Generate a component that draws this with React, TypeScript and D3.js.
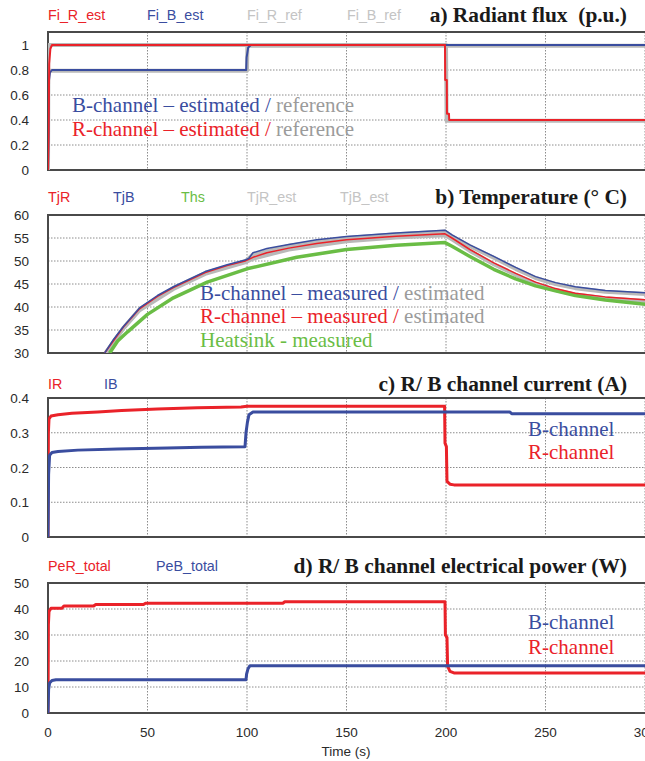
import React, { useEffect, useRef } from "react";
import * as d3 from "d3";

type Pt = [number, number];

// ---- x axis (time, s)
const TIME_TICKS = [0, 50, 100, 150, 200, 250, 300];

// ---- a) Radiant flux (p.u.)
const FI_R_EST: Pt[] = [[0, 0], [0.3, 0.3], [0.6, 0.85], [1.2, 0.97], [2, 1], [199.5, 1], [199.6, 0.72], [200.4, 0.72], [200.5, 0.45], [201.5, 0.45], [201.6, 0.4], [305, 0.4]];
const FI_B_EST: Pt[] = [[0, 0], [0.3, 0.3], [0.5, 0.72], [1, 0.78], [2, 0.8], [99.6, 0.8], [99.8, 0.9], [100.6, 0.98], [102, 1], [305, 1]];
const FI_R_REF: Pt[] = [[0, 0], [0.1, 1], [200, 1], [200.3, 0.395], [305, 0.395]];
const FI_B_REF: Pt[] = [[0, 0], [0.1, 0.795], [100, 0.795], [100.2, 0.995], [305, 0.995]];
const FLUX_TICKS = [0, 0.2, 0.4, 0.6, 0.8, 1];

// ---- b) Temperature (°C)
const TJ_R: Pt[] = [[28.5, 30], [38, 35.7], [46, 39.6], [55, 42.3], [63, 44.2], [79, 47.5], [90, 49], [99, 50], [103, 50.8], [110, 51.8], [121, 52.8], [135, 53.8], [150, 54.6], [175, 55.4], [199.5, 55.9], [203, 55], [212, 52.5], [224, 49.6], [235, 47.3], [245, 45.4], [255, 44], [265, 43], [280, 42.2], [300, 41.6], [305, 41.5]];
const TJ_B: Pt[] = [[28.5, 30], [33, 33], [38, 35.8], [46, 39.8], [55, 42.5], [63, 44.4], [79, 47.7], [90, 49.2], [99, 50.2], [101, 50.6], [103, 51.8], [110, 52.7], [121, 53.6], [135, 54.6], [150, 55.3], [175, 56.1], [199.5, 56.7], [203, 55.7], [212, 53.5], [224, 51], [235, 48.6], [245, 46.6], [255, 45.3], [265, 44.4], [280, 43.6], [300, 43.1], [305, 43]];
const THS: Pt[] = [[31, 30], [35, 32.6], [40, 34.6], [50, 38.4], [63, 42], [80, 45.4], [100, 48.3], [125, 50.8], [150, 52.5], [175, 53.4], [199.5, 54], [203, 53.2], [212, 51], [224, 48.2], [235, 46.1], [245, 44.6], [255, 43.5], [265, 42.5], [280, 41.5], [300, 40.6], [305, 40.4]];
const TJ_R_EST: Pt[] = [[29, 30], [38, 35.4], [46, 39.3], [63, 43.9], [79, 47.2], [99, 49.7], [103, 50.5], [121, 52.5], [150, 54.3], [175, 55.1], [199.5, 55.6], [203, 54.7], [212, 52.2], [224, 49.3], [235, 47], [245, 45.1], [255, 43.7], [265, 42.7], [280, 41.9], [300, 41.3], [305, 41.2]];
const TJ_B_EST: Pt[] = [[29, 30], [38, 35.5], [46, 39.5], [63, 44.1], [79, 47.4], [99, 49.9], [103, 51.4], [121, 53.3], [150, 55], [175, 55.8], [199.5, 56.4], [203, 55.4], [212, 53.2], [224, 50.7], [235, 48.3], [245, 46.3], [255, 45], [265, 44.1], [280, 43.3], [300, 42.8], [305, 42.7]];
const TEMP_TICKS = [30, 35, 40, 45, 50, 55, 60];

// ---- c) R/B channel current (A)
const I_R: Pt[] = [[0, 0], [0.1, 0.18], [0.2, 0.3], [0.5, 0.34], [1.5, 0.348], [5, 0.352], [12, 0.356], [25, 0.36], [37, 0.364], [55, 0.368], [75, 0.372], [97, 0.374], [100, 0.376], [199.3, 0.376], [199.5, 0.27], [200.2, 0.26], [200.5, 0.16], [202, 0.152], [204, 0.15], [305, 0.15]];
const I_B: Pt[] = [[0, 0], [0.3, 0.18], [0.8, 0.235], [2, 0.243], [5, 0.246], [15, 0.25], [35, 0.253], [60, 0.256], [77, 0.258], [99, 0.26], [99.5, 0.3], [100.2, 0.33], [101, 0.352], [103, 0.36], [232, 0.36], [233, 0.355], [305, 0.355]];
const CURRENT_TICKS = [0, 0.1, 0.2, 0.3, 0.4];

// ---- d) R/B channel electrical power (W)
const PE_R: Pt[] = [[0, 0], [0.2, 34], [0.5, 39], [1.5, 40.3], [7, 40.3], [8, 41.2], [23, 41.2], [24, 41.7], [48, 41.7], [49, 42.2], [118, 42.2], [119, 42.8], [199.5, 42.8], [199.7, 30], [200.5, 29], [200.8, 18], [202, 16], [204, 15.4], [305, 15.4]];
const PE_B: Pt[] = [[0, 0], [0.3, 9], [0.8, 11.5], [2, 12.5], [4, 12.8], [99.5, 12.8], [99.8, 15], [100.5, 17], [101.5, 18.2], [305, 18.2]];
const POWER_TICKS = [0, 10, 20, 30, 40, 50];

const RED = "#ea2229";
const BLUE = "#3a4d9f";
const GREEN = "#6abd45";
const GREY_LINE = "#b9b9b9";
const GREY_TXT = "#c4c4c4";
const GREY_ANN = "#9b9b9b";
const SANS = "'Liberation Sans', Arial, sans-serif";
const SERIF = "'Liberation Serif', 'Times New Roman', serif";

interface Series { pts: Pt[]; color: string; width: number; }
interface Panel {
    id: string;
    title: string;
    titleY: number;
    domain: [number, number];
    range: [number, number];
    top: number;
    ticks: number[];
    fmt: (v: number) => string;
    legend: { label: string; color: string; x: number }[];
    series: Series[];
    notes: { x: number; y: number; parts: { text: string; color: string }[] }[];
}

const PANELS: Panel[] = [
    {
        id: "a", title: "a) Radiant flux\u00a0\u00a0(p.u.)", titleY: 22,
        domain: [0, 1], range: [170, 45], top: 32, ticks: FLUX_TICKS, fmt: (v) => String(v),
        legend: [
            { label: "Fi_R_est", color: RED, x: 48 },
            { label: "Fi_B_est", color: BLUE, x: 147 },
            { label: "Fi_R_ref", color: GREY_TXT, x: 247 },
            { label: "Fi_B_ref", color: GREY_TXT, x: 347 },
        ],
        series: [
            { pts: FI_R_REF, color: GREY_LINE, width: 4 },
            { pts: FI_B_REF, color: GREY_LINE, width: 4 },
            { pts: FI_B_EST, color: BLUE, width: 2 },
            { pts: FI_R_EST, color: RED, width: 2 },
        ],
        notes: [
            { x: 72, y: 112, parts: [{ text: "B-channel – estimated / ", color: BLUE }, { text: "reference", color: GREY_ANN }] },
            { x: 72, y: 136, parts: [{ text: "R-channel – estimated / ", color: RED }, { text: "reference", color: GREY_ANN }] },
        ],
    },
    {
        id: "b", title: "b) Temperature (° C)", titleY: 204,
        domain: [30, 60], range: [353, 215], top: 215, ticks: TEMP_TICKS, fmt: (v) => String(v),
        legend: [
            { label: "TjR", color: RED, x: 48 },
            { label: "TjB", color: BLUE, x: 113 },
            { label: "Ths", color: GREEN, x: 181 },
            { label: "TjR_est", color: GREY_TXT, x: 247 },
            { label: "TjB_est", color: GREY_TXT, x: 340 },
        ],
        series: [
            { pts: TJ_R_EST, color: GREY_LINE, width: 4 },
            { pts: TJ_B_EST, color: GREY_LINE, width: 4 },
            { pts: THS, color: GREEN, width: 3.5 },
            { pts: TJ_R, color: RED, width: 1.5 },
            { pts: TJ_B, color: BLUE, width: 1.5 },
        ],
        notes: [
            { x: 200, y: 300, parts: [{ text: "B-channel – measured / ", color: BLUE }, { text: "estimated", color: GREY_ANN }] },
            { x: 200, y: 323, parts: [{ text: "R-channel – measured / ", color: RED }, { text: "estimated", color: GREY_ANN }] },
            { x: 200, y: 347, parts: [{ text: "Heatsink - measured", color: GREEN }] },
        ],
    },
    {
        id: "c", title: "c) R/ B channel current (A)", titleY: 391,
        domain: [0, 0.4], range: [537, 398], top: 398, ticks: CURRENT_TICKS, fmt: (v) => String(v),
        legend: [
            { label: "IR", color: RED, x: 48 },
            { label: "IB", color: BLUE, x: 104 },
        ],
        series: [
            { pts: I_R, color: RED, width: 3 },
            { pts: I_B, color: BLUE, width: 3 },
        ],
        notes: [
            { x: 528, y: 436, parts: [{ text: "B-channel", color: BLUE }] },
            { x: 528, y: 459, parts: [{ text: "R-channel", color: RED }] },
        ],
    },
    {
        id: "d", title: "d) R/ B channel electrical power (W)", titleY: 573,
        domain: [0, 50], range: [713, 583], top: 583, ticks: POWER_TICKS, fmt: (v) => String(v),
        legend: [
            { label: "PeR_total", color: RED, x: 48 },
            { label: "PeB_total", color: BLUE, x: 156 },
        ],
        series: [
            { pts: PE_R, color: RED, width: 3 },
            { pts: PE_B, color: BLUE, width: 3 },
        ],
        notes: [
            { x: 528, y: 629, parts: [{ text: "B-channel", color: BLUE }] },
            { x: 528, y: 654, parts: [{ text: "R-channel", color: RED }] },
        ],
    },
];

const W = 645;
const H = 761;

const App: React.FC = () => {
    const svgRef = useRef<SVGSVGElement>(null);

    useEffect(() => {
        if (!svgRef.current) return;
        const svg = d3.select(svgRef.current);
        svg.selectAll("*").remove();

        const x = d3.scaleLinear().domain([0, 300]).range([48, 645]);
        const defs = svg.append("defs");

        PANELS.forEach((p) => {
            const y = d3.scaleLinear().domain(p.domain).range(p.range);
            const bottom = p.range[0];
            const g = svg.append("g");

            defs.append("clipPath").attr("id", `clip-${p.id}`)
                .append("rect")
                .attr("x", x(0)).attr("y", p.top)
                .attr("width", W - x(0)).attr("height", bottom - p.top);

            // grid
            g.selectAll(".vg").data(TIME_TICKS.filter((t) => t > 0))
                .enter().append("line")
                .attr("x1", (t) => x(t)).attr("x2", (t) => x(t))
                .attr("y1", p.top).attr("y2", bottom)
                .attr("stroke", "#8c8c8c").attr("stroke-width", 1)
                .attr("stroke-dasharray", "1.5 1.5");
            g.selectAll(".hg").data(p.ticks.filter((v) => y(v) > p.top + 1 && y(v) < bottom - 1))
                .enter().append("line")
                .attr("x1", x(0)).attr("x2", W)
                .attr("y1", (v) => y(v)).attr("y2", (v) => y(v))
                .attr("stroke", "#8c8c8c").attr("stroke-width", 1)
                .attr("stroke-dasharray", "1.5 1.5");

            // frame
            g.append("path")
                .attr("d", `M${W},${p.top}H${x(0)}V${bottom}H${W}`)
                .attr("fill", "none").attr("stroke", "#4a4a4a").attr("stroke-width", 2);

            // y ticks
            g.selectAll(".yt").data(p.ticks).enter().append("text")
                .attr("x", 29).attr("y", (v) => y(v) + 5)
                .attr("text-anchor", "end")
                .attr("font-family", SANS).attr("font-size", 13.5).attr("fill", "#2a2a2a")
                .text((v) => p.fmt(v));

            // series
            const line = d3.line<Pt>().x((d) => x(d[0])).y((d) => y(d[1]));
            const sg = g.append("g").attr("clip-path", `url(#clip-${p.id})`);
            p.series.forEach((s) => {
                sg.append("path").datum(s.pts)
                    .attr("d", line)
                    .attr("fill", "none")
                    .attr("stroke", s.color)
                    .attr("stroke-width", s.width)
                    .attr("stroke-linejoin", "round");
            });

            // legend labels
            g.selectAll(".lg").data(p.legend).enter().append("text")
                .attr("x", (d) => d.x).attr("y", p.titleY - 2)
                .attr("font-family", SANS).attr("font-size", 14.3).attr("fill", (d) => d.color)
                .text((d) => d.label);

            // title
            g.append("text")
                .attr("x", 627).attr("y", p.titleY)
                .attr("text-anchor", "end")
                .attr("font-family", SERIF).attr("font-weight", "bold").attr("font-size", 21.4)
                .attr("fill", "#1a1a1a")
                .text(p.title);

            // annotations
            p.notes.forEach((n) => {
                const t = g.append("text")
                    .attr("x", n.x).attr("y", n.y)
                    .attr("font-family", SERIF).attr("font-size", 21);
                n.parts.forEach((part) => {
                    t.append("tspan").attr("fill", part.color).text(part.text);
                });
            });
        });

        // x axis labels
        svg.append("g").selectAll("text").data(TIME_TICKS).enter().append("text")
            .attr("x", (t) => x(t)).attr("y", 737)
            .attr("text-anchor", "middle")
            .attr("font-family", SANS).attr("font-size", 13.5).attr("fill", "#2a2a2a")
            .text((t) => String(t));
        svg.append("text")
            .attr("x", 346).attr("y", 756)
            .attr("text-anchor", "middle")
            .attr("font-family", SANS).attr("font-size", 13.5).attr("fill", "#2a2a2a")
            .text("Time (s)");
    }, []);

    return (
        <div style={{ position: "absolute", left: 0, top: 0, width: W, height: H, overflow: "hidden", background: "#fff" }}>
            <svg ref={svgRef} width={W} height={H} style={{ display: "block" }} />
        </div>
    );
};

export default App;
